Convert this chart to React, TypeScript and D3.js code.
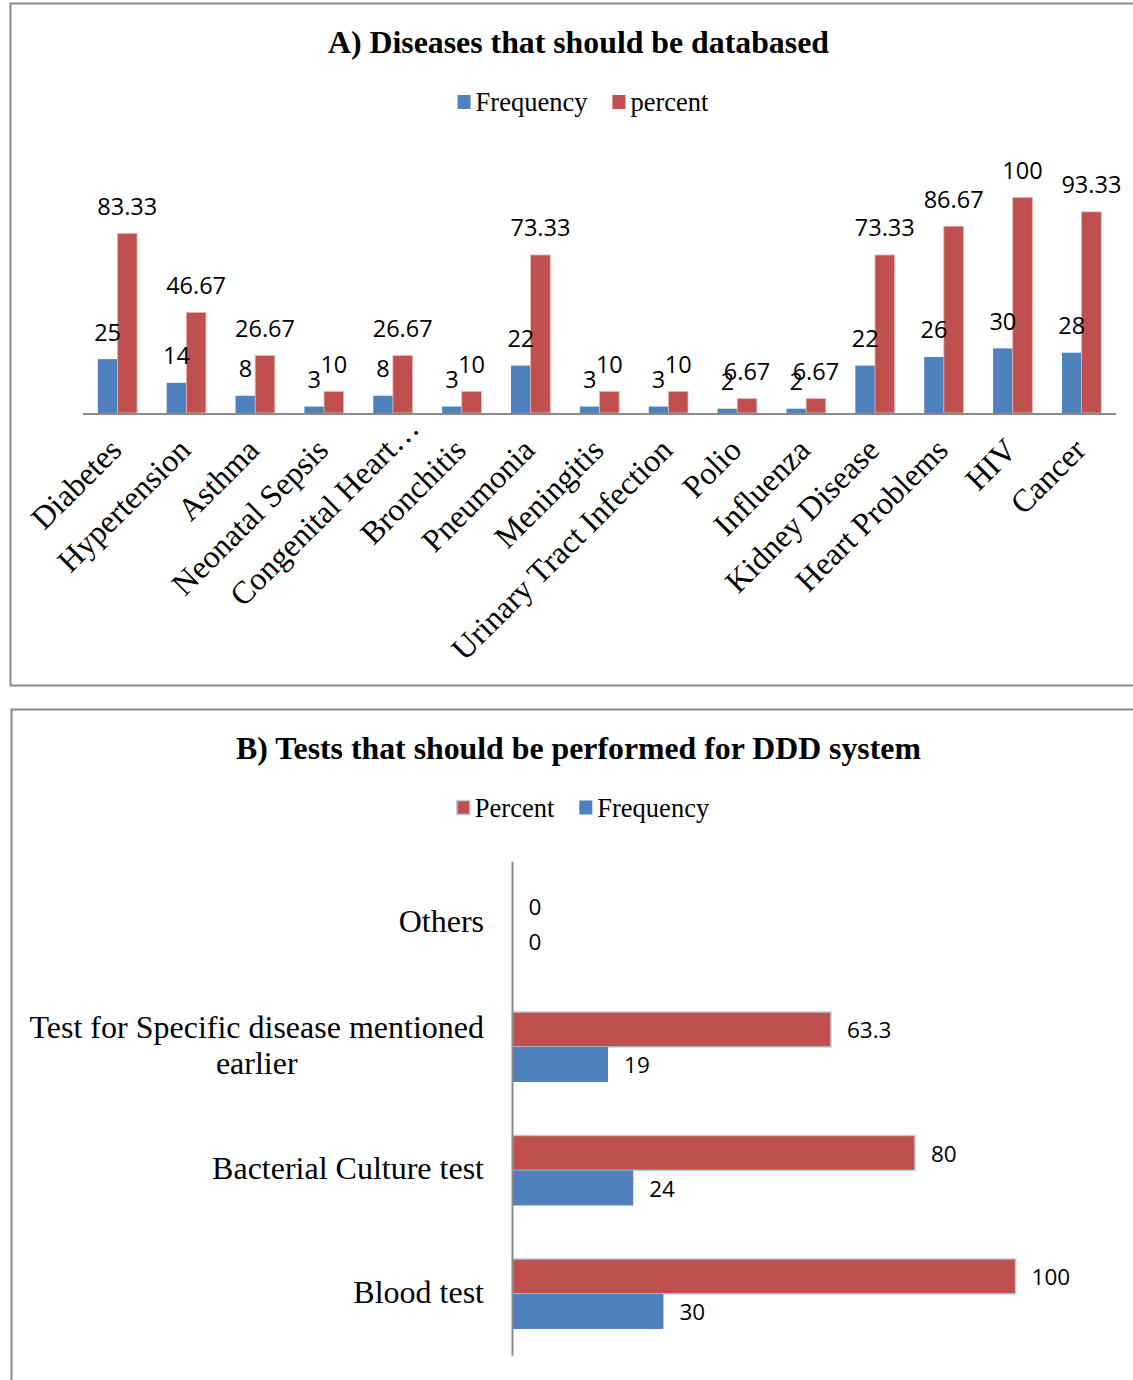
import React from 'react'
import { scaleLinear, scaleBand } from 'd3'

// chart A data
const diseases = ['Diabetes', 'Hypertension', 'Asthma', 'Neonatal Sepsis', 'Congenital Heart…', 'Bronchitis',
  'Pneumonia', 'Meningitis', 'Urinary Tract Infection', 'Polio', 'Influenza', 'Kidney Disease',
  'Heart Problems', 'HIV', 'Cancer']
const diseaseFrequency = [25, 14, 8, 3, 8, 3, 22, 3, 3, 2, 2, 22, 26, 30, 28]
const diseasePercent = [83.33, 46.67, 26.67, 10, 26.67, 10, 73.33, 10, 10, 6.67, 6.67, 73.33, 86.67, 100, 93.33]
const seriesA = ['Frequency', 'percent']

// chart B data
const tests = ['Others', 'Test for Specific disease mentioned earlier', 'Bacterial Culture test', 'Blood test']
const testPercent = [0, 63.3, 80, 100]
const testFrequency = [0, 19, 24, 30]
const seriesB = ['Percent', 'Frequency']

const BLUE = '#4F81BD'
const RED = '#C0504D'
const GREY = '#8a8a8a'
const SERIF = '"Liberation Serif", "Times New Roman", serif'
const SANS = '"Open Sans", "Noto Sans", sans-serif'

const ctx = typeof document !== 'undefined' ? document.createElement('canvas').getContext('2d') : null
const measure = (text: string, font: string) => {
  if (!ctx) return text.length * 12
  ctx.font = font
  return ctx.measureText(text).width
}

const wrap = (text: string, font: string, maxW: number) => {
  const words = text.split(' ')
  const lines: string[] = []
  let cur = ''
  words.forEach(w => {
    const t = cur ? cur + ' ' + w : w
    if (cur && measure(t, font) > maxW) {
      lines.push(cur)
      cur = w
    } else cur = t
  })
  if (cur) lines.push(cur)
  return lines
}

const Legend = ({ items, colors, cx, y, outline }: { items: string[], colors: string[], cx: number, y: number, outline?: boolean }) => {
  const font = `26.5px ${SERIF}`
  const sq = 13, gap = 5, itemGap = 25
  const widths = items.map(t => measure(t, font))
  const total = widths.reduce((a, w) => a + sq + gap + w, 0) + itemGap * (items.length - 1)
  let x = cx - total / 2
  return (
    <g>
      {items.map((t, i) => {
        const x0 = x
        x += sq + gap + widths[i] + itemGap
        return (
          <g key={t}>
            <rect x={x0} y={y - 16} width={sq} height={sq + 1} fill={colors[i]}
              stroke={outline && i === 0 ? '#b9cde5' : 'none'} strokeWidth={1.5} />
            <text x={x0 + sq + gap} y={y} fontFamily={SERIF} fontSize={26.5} fill='#000'>{t}</text>
          </g>
        )
      })}
    </g>
  )
}

const ChartA = () => {
  const left = 83, right = 1116, base = 413
  const x = scaleBand().domain(diseases).range([left, right]).paddingInner(0.43).paddingOuter(0.215)
  const inner = scaleBand().domain(seriesA).range([0, x.bandwidth()])
  const y = scaleLinear().domain([0, 100]).range([base, 197.5])
  const rows = diseases.map((d, i) => ({ d, vals: [diseaseFrequency[i], diseasePercent[i]] }))

  return (
    <g>
      <rect x={10.5} y={3.5} width={1140} height={682} fill='#fff' stroke={GREY} strokeWidth={2} />
      <text x={578.5} y={53} textAnchor='middle' fontFamily={SERIF} fontWeight='bold' fontSize={31.8}>
        A) Diseases that should be databased
      </text>
      <Legend items={seriesA} colors={[BLUE, RED]} cx={583} y={111} />
      {rows.map(r => (
        <g key={r.d}>
          {r.vals.map((v, j) => (
            <rect key={j} x={x(r.d)! + inner(seriesA[j])!} y={y(v)} width={inner.bandwidth()}
              height={base - y(v)} fill={j === 0 ? BLUE : RED}
              stroke={j === 1 ? '#e8b5b4' : 'none'} strokeWidth={0.8} />
          ))}
        </g>
      ))}
      <line x1={left} x2={right} y1={base + 1} y2={base + 1} stroke={GREY} strokeWidth={2} />
      {rows.map(r => (
        <g key={r.d + 'l'}>
          {r.vals.map((v, j) => (
            <text key={j} x={x(r.d)! + inner(seriesA[j])! + inner.bandwidth() / 2} y={y(v) - 18.5}
              textAnchor='middle' fontFamily={SANS} fontSize={23.5} fill='#000'>{String(v)}</text>
          ))}
        </g>
      ))}
      {diseases.map(d => {
        const cx = x(d)! + x.bandwidth() / 2 + 6
        // truncated labels sit further along their baseline in the original
        const shift = d.endsWith('…') ? 31 : 0
        return (
          <text key={d + 't'} x={cx} y={452} dx={shift} textAnchor='end' transform={`rotate(-45 ${cx} 452)`}
            fontFamily={SERIF} fontSize={32} fill='#000'>{d}</text>
        )
      })}
    </g>
  )
}

const ChartB = () => {
  const top = 861.7, bottom = 1355.7, axisX = 512.5
  const y = scaleBand().domain(tests).range([top, bottom]).paddingInner(0.433).paddingOuter(0.2165)
  const inner = scaleBand().domain(seriesB).range([0, y.bandwidth()])
  const x = scaleLinear().domain([0, 100]).range([axisX, 1015.6])
  const labelFont = `32px ${SERIF}`
  const rows = tests.map((t, i) => ({ t, vals: [testPercent[i], testFrequency[i]] }))

  return (
    <g>
      <rect x={11.5} y={709.5} width={1140} height={700} fill='#fff' stroke={GREY} strokeWidth={2} />
      <text x={578.5} y={759} textAnchor='middle' fontFamily={SERIF} fontWeight='bold' fontSize={31.8}>
        B) Tests that should be performed for DDD system
      </text>
      <Legend items={seriesB} colors={[RED, BLUE]} cx={583} y={816.5} outline />
      {rows.map(r => (
        <g key={r.t}>
          {r.vals.map((v, j) => (
            <rect key={j} x={axisX} y={y(r.t)! + inner(seriesB[j])!} width={x(v) - axisX}
              height={inner.bandwidth()} fill={j === 0 ? RED : BLUE}
              stroke={j === 0 && v > 0 ? '#b9cde5' : 'none'} strokeWidth={1.5} />
          ))}
          {r.vals.map((v, j) => (
            <text key={'v' + j} x={x(v) + 16} y={y(r.t)! + inner(seriesB[j])! + inner.bandwidth() / 2 + 9}
              fontFamily={SANS} fontSize={22.5} fill='#000'>{String(v)}</text>
          ))}
        </g>
      ))}
      <line x1={axisX} x2={axisX} y1={top} y2={bottom} stroke={GREY} strokeWidth={2} />
      {tests.map(t => {
        const lines = wrap(t, labelFont, 475)
        const blockW = Math.max(...lines.map(l => measure(l, labelFont)))
        const cx = 484 - blockW / 2
        const cy = y(t)! + y.bandwidth() / 2
        return (
          <text key={t + 'c'} textAnchor='middle' fontFamily={SERIF} fontSize={32} fill='#000'>
            {lines.map((l, k) => (
              <tspan key={k} x={cx} y={cy + 9 + (k - (lines.length - 1) / 2) * 36.5}>{l}</tspan>
            ))}
          </text>
        )
      })}
    </g>
  )
}

export default function App() {
  return (
    <svg width={1133} height={1380} viewBox='0 0 1133 1380'
      style={{ position: 'absolute', left: 0, top: 0, background: '#fff' }}>
      <rect width={1133} height={1380} fill='#fff' />
      <ChartA />
      <ChartB />
    </svg>
  )
}
